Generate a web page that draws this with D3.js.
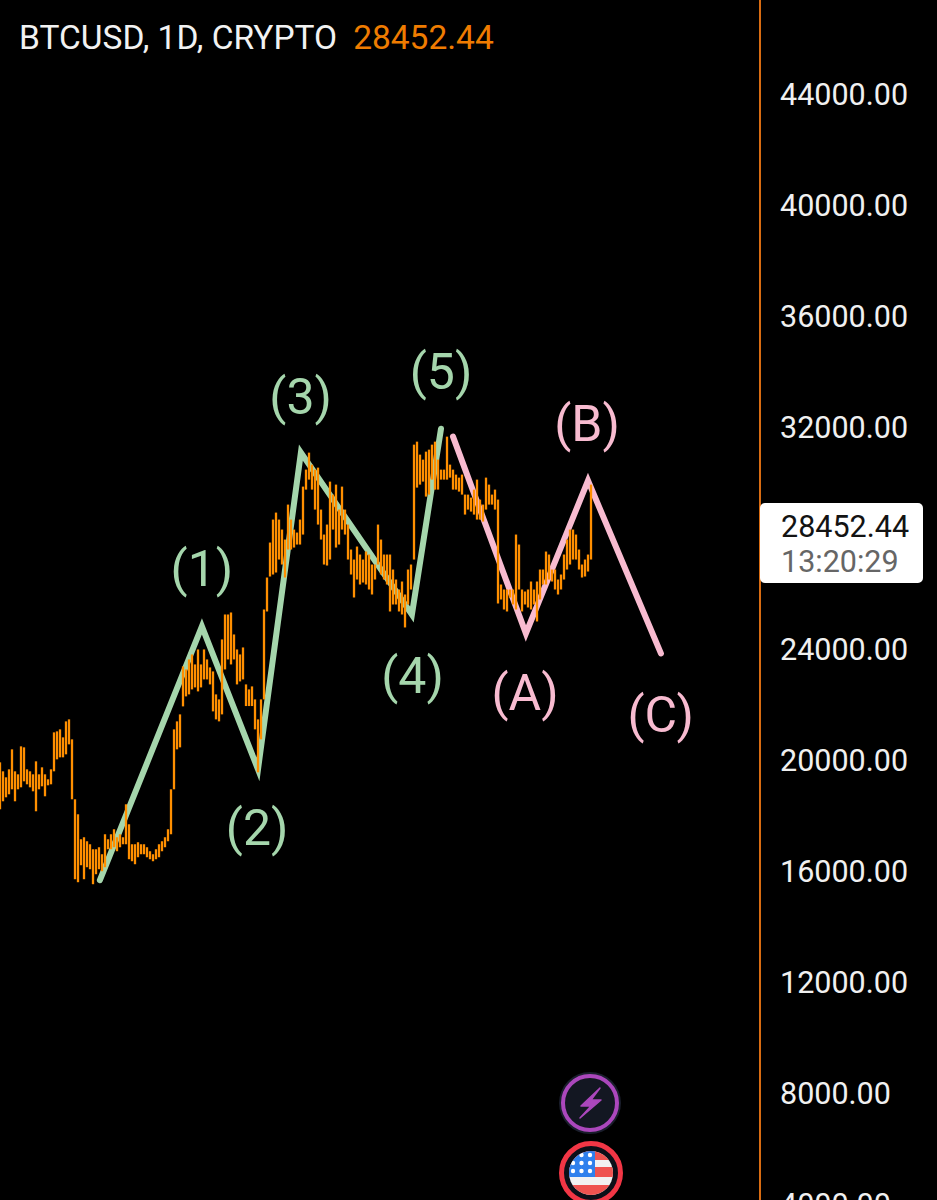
<!DOCTYPE html>
<html><head><meta charset="utf-8">
<style>html,body{margin:0;padding:0;background:#000;overflow:hidden}svg{display:block;font-family:Roboto,sans-serif}</style>
<script src="https://cdnjs.cloudflare.com/ajax/libs/d3/7.8.5/d3.min.js"></script>
</head><body><svg id="c" width="937" height="1200"></svg>
<script>
const symbol = "BTCUSD, 1D, CRYPTO";
const lastPrice = 28452.44;
const countdown = "13:20:29";
const priceTicks = [44000,40000,36000,32000,24000,20000,16000,12000,8000,4000];
const highs = [19916,19592,19376,19664,20384,19592,19484,20492,20456,19664,19592,19484,19952,19484,19736,19484,19304,19664,20996,21032,21104,20816,21392,21464,20744,18584,18044,17144,17216,17072,16964,16784,16784,16856,16604,17324,17144,17324,17504,17216,17324,17216,18404,17684,16964,16964,17036,16964,16964,16856,16712,16604,16784,16964,17072,17216,17504,18944,21104,21392,21644,23372,23264,23624,23804,23444,23984,23444,23984,23624,23336,23192,22364,22184,24344,25244,25244,25316,24524,23984,23804,24056,22724,22544,22652,22184,21464,22184,25424,26576,27836,28664,28916,28664,28304,27944,29204,28664,28304,28196,28664,29852,30464,31076,30644,30464,30536,29024,28124,28484,30032,29564,29924,29024,29852,29024,28484,27584,27224,27692,27404,27224,27512,27404,27044,27044,28484,27944,27404,27404,27404,26864,26504,26144,26432,25964,26864,27044,31364,31472,31004,30824,31112,31184,31364,31472,30824,30464,30464,31652,30644,30464,30284,30176,30284,29564,29564,29456,29744,30104,29384,29204,30176,29924,29564,29744,29384,26324,26144,26144,26144,26144,28124,27764,26144,26072,26144,26432,26144,26432,26864,26864,27512,27404,26864,26864,26504,26684,27404,27944,28304,28304,28124,27584,27044,27224,27404,29924];
const lows = [18224,18512,18656,18764,18944,18512,18944,19016,19232,19124,19016,18872,18152,18944,19052,18692,19088,19124,19592,20024,20096,20096,20204,20564,18584,15704,15596,16208,15704,16136,16064,15524,15884,16064,15992,16136,16784,16784,16856,16712,16856,16964,16964,16424,16352,16244,16496,16604,16604,16496,16424,16352,16424,16496,16712,16856,17072,17324,18944,20384,20456,21932,22292,22364,22544,22616,22472,22616,22904,22904,22724,21752,21464,21392,21644,23264,23624,23444,23624,22724,22832,22904,21944,21944,21944,21104,19556,20744,22184,25352,26612,26684,26756,27224,27044,26576,27584,27584,27656,27764,27764,28124,29744,30104,29744,29024,28484,27944,27044,27008,27224,28304,27656,27764,28304,28124,27224,26684,25856,26504,26324,26396,26324,26144,25964,26504,27044,26684,26504,26324,25352,25604,25604,25352,25244,24776,25604,26144,27224,29816,29924,30032,29492,29564,30104,29744,29744,30104,30104,30104,30176,29744,29744,29672,29564,28844,29024,28952,28844,28664,28664,28592,29024,29204,29204,29024,25640,25784,25424,25352,25856,25604,25424,26144,25352,25604,25496,25424,25604,24992,25784,26324,26324,26504,26432,26144,25964,26144,26504,26864,27044,27224,27224,26864,26576,26612,26792,27224];
const impulseDays = [33.3,67.3,86,100.3,137.3,147];
const impulsePrices = [15668,24812,19664,31076,25244,31940];
const impulseLabels = ["(1)","(2)","(3)","(4)","(5)"];
const impulseLabelDays = [67.3,85.7,100.2,137.5,147];
const impulseLabelPrices = [26872,17558,33088,23012,33984];
const correctiveDays = [151,175.3,196,220.3];
const correctivePrices = [31652,24560,30068,23840];
const correctiveLabels = ["(A)","(B)","(C)"];
const correctiveLabelDays = [175,195.7,220.2];
const correctiveLabelPrices = [22400,32094,21628];

const GREEN="#a5d6ac", PINK="#f8bbd0", ORANGE="#ff8f00";
const svg=d3.select("#c");
const defs=svg.append("defs");
defs.append("filter").attr("id","soft").attr("x","-5%").attr("y","-5%").attr("width","110%").attr("height","110%")
  .append("feGaussianBlur").attr("stdDeviation",0.5);
defs.append("clipPath").attr("id","fc").append("circle").attr("r",22);

const x=d3.scaleLinear().domain([0,253.33]).range([0,760]);
const y=d3.scaleLinear().domain([44000,4000]).range([94,1204]);

svg.append("rect").attr("width",937).attr("height",1200).attr("fill","#000");

// wave lines
const line=d3.line().x(d=>x(d[0])).y(d=>y(d[1]));
const waves=svg.append("g").attr("fill","none").attr("stroke-width",6).attr("stroke-linecap","round");
waves.append("path").attr("d",line(d3.zip(impulseDays,impulsePrices))).attr("stroke",GREEN);
waves.append("path").attr("d",line(d3.zip(correctiveDays,correctivePrices))).attr("stroke",PINK);

// price bars
svg.append("g").attr("filter","url(#soft)").selectAll("line").data(highs).join("line")
  .attr("x1",(d,i)=>x(i)).attr("x2",(d,i)=>x(i))
  .attr("y1",d=>y(d)).attr("y2",(d,i)=>y(lows[i]))
  .attr("stroke",ORANGE).attr("stroke-width",2.3);

function labels(t,dx,py,col){
  svg.append("g").selectAll("text").data(t).join("text")
    .attr("x",(d,i)=>x(dx[i])).attr("y",(d,i)=>y(py[i]))
    .attr("text-anchor","middle").attr("dominant-baseline","central")
    .attr("font-size",50).attr("font-weight",400).attr("fill",col).text(d=>d);
}
labels(impulseLabels,impulseLabelDays,impulseLabelPrices,GREEN);
labels(correctiveLabels,correctiveLabelDays,correctiveLabelPrices,PINK);

// header
const head=svg.append("text").attr("x",19).attr("y",49).attr("font-size",33.5);
head.append("tspan").attr("fill","#f2f2f2").text(symbol);
head.append("tspan").attr("dx",16).attr("fill","#ef7c00").text(lastPrice.toFixed(2));

// axis
svg.append("line").attr("x1",760).attr("x2",760).attr("y1",0).attr("y2",1200).attr("stroke","#d86c12").attr("stroke-width",2);
const ax=svg.append("g").attr("transform","translate(760,1)")
  .call(d3.axisRight(y).tickValues(priceTicks).tickFormat(d3.format(".2f")).tickSize(0).tickPadding(20));
ax.select(".domain").remove();
ax.selectAll("text").attr("font-size",30.5).attr("font-family","Roboto,sans-serif").attr("fill","#f0f0f0");

// last price tag
svg.append("rect").attr("x",760).attr("y",503).attr("width",163).attr("height",80).attr("rx",5).attr("fill","#fff");
svg.append("text").attr("x",781).attr("y",537).attr("font-size",30.5).attr("fill","#131313").text(lastPrice.toFixed(2));
svg.append("text").attr("x",781).attr("y",572).attr("font-size",30.5).attr("fill","#666").text(countdown);

// event icons
const bolt=svg.append("g").attr("transform","translate(590,1103)");
bolt.append("circle").attr("r",31).attr("fill","#1a1e2c");
bolt.append("circle").attr("r",27).attr("fill","#131722").attr("stroke","#ab47bc").attr("stroke-width",4);
bolt.append("path").attr("d","M10,-15 L-9,3 L1,3 L-10,15 L11,-3 L1,-3 Z").attr("fill","#ab47bc").attr("stroke","#ab47bc").attr("stroke-linejoin","round").attr("stroke-width",1.5);

const flag=svg.append("g").attr("transform","translate(591,1173)");
flag.append("circle").attr("r",29.5).attr("fill","#0c0f18").attr("stroke","#f23645").attr("stroke-width",5);
const f=flag.append("g").attr("clip-path","url(#fc)");
f.append("rect").attr("x",-23).attr("y",-23).attr("width",46).attr("height",46).attr("fill","#f2f2f2");
[[-23,10],[-6,10],[12,11]].forEach(s=>f.append("rect").attr("x",-23).attr("y",s[0]).attr("width",46).attr("height",s[1]).attr("fill","#ef5350"));
f.append("rect").attr("x",-23).attr("y",-23).attr("width",27).attr("height",27).attr("fill","#2f80ed");
d3.cross([-18,-9.5,-1],[-18,-10,-2]).forEach(p=>f.append("circle").attr("cx",p[0]).attr("cy",p[1]).attr("r",2.2).attr("fill","#fff"));
</script></body></html>
